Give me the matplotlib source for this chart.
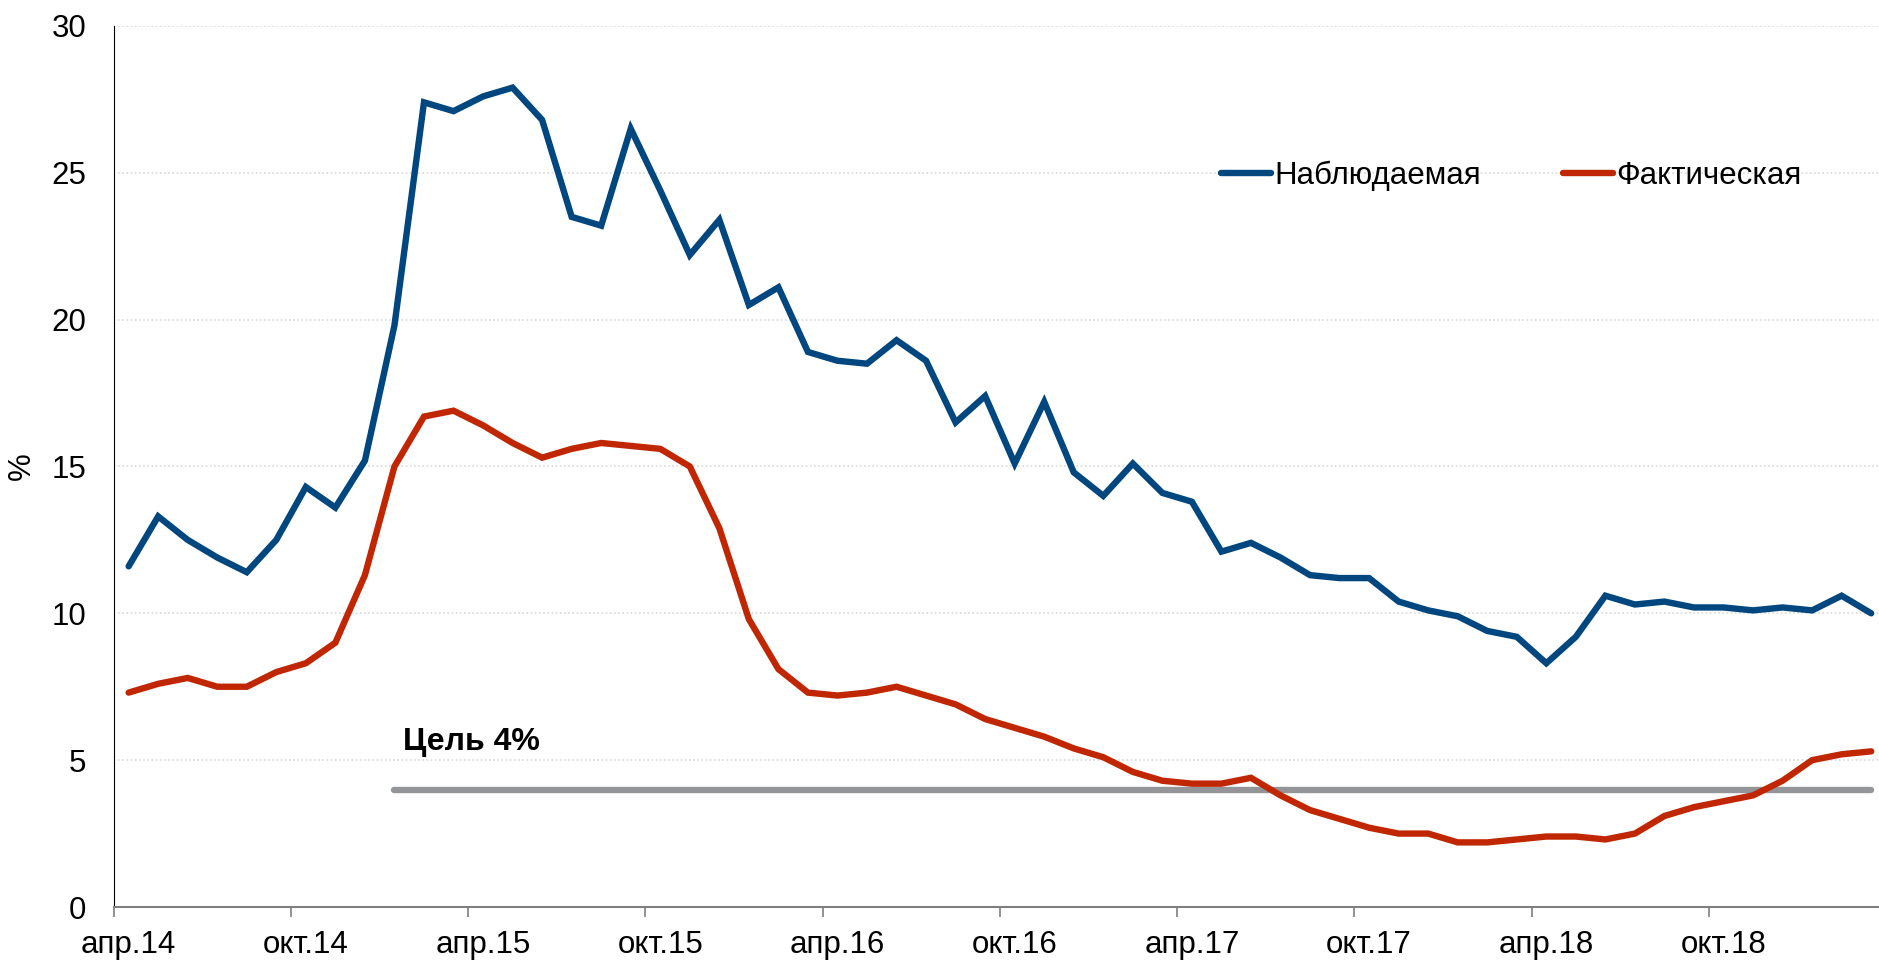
import matplotlib
matplotlib.use("Agg")
import matplotlib.pyplot as plt
import numpy as np
import pandas as pd

# monthly, апр.2014 - мар.2019
months = pd.date_range("2014-04-01", "2019-03-01", freq="MS")

observed = [11.6, 13.3, 12.5, 11.9, 11.4, 12.5, 14.3, 13.6, 15.2, 19.8,
            27.4, 27.1, 27.6, 27.9, 26.8, 23.5, 23.2, 26.5, 24.4, 22.2,
            23.4, 20.5, 21.1, 18.9, 18.6, 18.5, 19.3, 18.6, 16.5, 17.4,
            15.1, 17.2, 14.8, 14.0, 15.1, 14.1, 13.8, 12.1, 12.4, 11.9,
            11.3, 11.2, 11.2, 10.4, 10.1, 9.9, 9.4, 9.2, 8.3, 9.2,
            10.6, 10.3, 10.4, 10.2, 10.2, 10.1, 10.2, 10.1, 10.6, 10.0]

actual = [7.3, 7.6, 7.8, 7.5, 7.5, 8.0, 8.3, 9.0, 11.3, 15.0,
          16.7, 16.9, 16.4, 15.8, 15.3, 15.6, 15.8, 15.7, 15.6, 15.0,
          12.9, 9.8, 8.1, 7.3, 7.2, 7.3, 7.5, 7.2, 6.9, 6.4,
          6.1, 5.8, 5.4, 5.1, 4.6, 4.3, 4.2, 4.2, 4.4, 3.8,
          3.3, 3.0, 2.7, 2.5, 2.5, 2.2, 2.2, 2.3, 2.4, 2.4,
          2.3, 2.5, 3.1, 3.4, 3.6, 3.8, 4.3, 5.0, 5.2, 5.3]

target_value = 4.0
target_start = 9  # янв.15

tick_idx = [0, 6, 12, 18, 24, 30, 36, 42, 48, 54]
tick_labels = ["апр.14", "окт.14", "апр.15", "окт.15", "апр.16",
               "окт.16", "апр.17", "окт.17", "апр.18", "окт.18"]

plt.rcParams["font.family"] = ["Liberation Sans", "DejaVu Sans"]

BLUE = "#00467f"
RED = "#c02600"
GREY = "#939598"

fig = plt.figure(figsize=(18.79, 9.65), dpi=100)
ax = fig.add_axes([0.0606, 0.0601, 1.0037 - 0.0606, 0.9731 - 0.0601])

x = np.arange(len(months))
ax.plot(x, observed, color=BLUE, lw=4.6, solid_joinstyle="miter",
        solid_capstyle="round", label="Наблюдаемая", zorder=3)
ax.plot(x, actual, color=RED, lw=4.6, solid_joinstyle="miter",
        solid_capstyle="round", label="Фактическая", zorder=3)
ax.plot([target_start, x[-1]], [target_value, target_value], color=GREY,
        lw=4.6, solid_capstyle="round", zorder=2)
ax.text(target_start + 0.3, target_value + 1.35, "Цель 4%", fontsize=23,
        fontweight="bold", va="baseline", ha="left")

ax.set_xlim(-0.5, len(months) - 0.5)
ax.set_ylim(0, 30)
ax.set_yticks(range(0, 31, 5))
ax.yaxis.grid(True, color="#d9d9d9", ls=(0, (1, 1.5)), lw=1.2)
ax.set_axisbelow(True)

ax.set_xticks(tick_idx)
ax.set_xticklabels(tick_labels)
ax.set_xticks(np.arange(-0.5, len(months), 6), minor=True)
ax.tick_params(axis="x", which="major", length=0, pad=16.5, labelsize=22.5)
ax.tick_params(axis="x", which="minor", length=7, width=1.2, color="#7f7f7f")
ax.tick_params(axis="y", length=0, pad=20, labelsize=22.5)

for s in ("top", "right"):
    ax.spines[s].set_visible(False)
ax.spines["left"].set_color("black")
ax.spines["left"].set_linewidth(0.8)
ax.spines["bottom"].set_color("#7f7f7f")
ax.spines["bottom"].set_linewidth(1.5)

ax.set_ylabel("%", fontsize=22.5, labelpad=10)

leg = ax.legend(loc="center left", bbox_to_anchor=(1221 / 1879, 1 - 176 / 965),
                bbox_transform=fig.transFigure, ncol=2, frameon=False,
                fontsize=22.5, handlelength=1.6, handletextpad=0.12,
                columnspacing=2.6, borderpad=0, borderaxespad=0)

fig.savefig("out.png", dpi=100)
